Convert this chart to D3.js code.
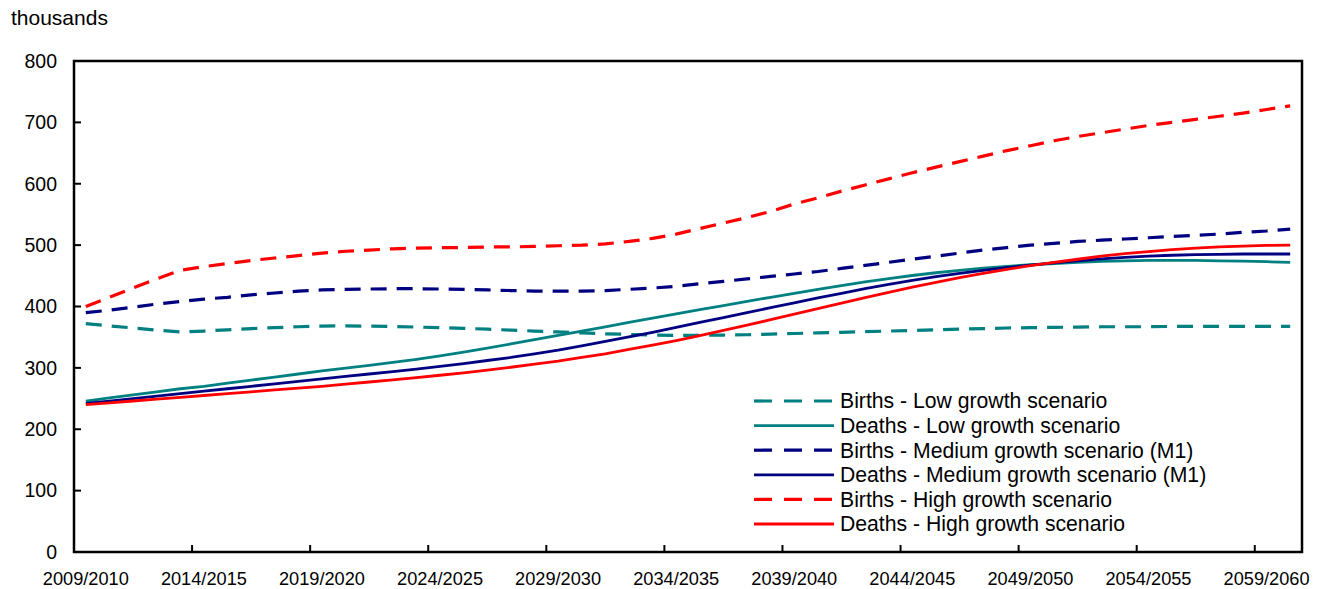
<!DOCTYPE html>
<html>
<head>
<meta charset="utf-8">
<script src="https://cdn.jsdelivr.net/npm/d3@7"></script>
<style>
  html, body { margin: 0; padding: 0; background: #fff; }
  svg { display: block; font-family: "Liberation Sans", Arial, Helvetica, sans-serif; }
</style>
</head>
<body>
<svg id="chart" width="1320" height="589"></svg>
<script>
// ---- Data (thousands) ----
const categories = [
  "2009/2010","2010/2011","2011/2012","2012/2013","2013/2014",
  "2014/2015","2015/2016","2016/2017","2017/2018","2018/2019",
  "2019/2020","2020/2021","2021/2022","2022/2023","2023/2024",
  "2024/2025","2025/2026","2026/2027","2027/2028","2028/2029",
  "2029/2030","2030/2031","2031/2032","2032/2033","2033/2034",
  "2034/2035","2035/2036","2036/2037","2037/2038","2038/2039",
  "2039/2040","2040/2041","2041/2042","2042/2043","2043/2044",
  "2044/2045","2045/2046","2046/2047","2047/2048","2048/2049",
  "2049/2050","2050/2051","2051/2052","2052/2053","2053/2054",
  "2054/2055","2055/2056","2056/2057","2057/2058","2058/2059",
  "2059/2060","2060/2061"
];
const tickLabels = ["2009/2010","2014/2015","2019/2020","2024/2025","2029/2030","2034/2035",
                    "2039/2040","2044/2045","2049/2050","2054/2055","2059/2060"];
const yTicks = [0, 100, 200, 300, 400, 500, 600, 700, 800];

const birthsLow = [372,368.5,365,361.5,358.5,360,362,364,365.5,367,368,368.5,368,367.5,366.5,365.5,364.5,363,361.5,360,
  358.5,357,355.5,354.5,353.5,353,353,353.5,354,355,356,357,358,359,360,361,362,363,364,365,
  365.5,366,366.5,367,367,367,367.5,367.5,367.5,367.5,367.5,367.5];
const deathsLow = [246,251,256,261,266,270,275,280,285,290,295,299.5,304,309,314,319.5,325.5,332,339,346,
  353,360,367,374,381,388,395,401.5,408.5,415,421.5,428,434,440,445.5,450.5,455,459,462.5,465.5,
  468,470,472,473.5,474.5,475,475,475,474.5,474,473,472];
const birthsMedium = [390,394,399,404,408,412,415,419,422,425,427,428,428.5,429,429,428.5,428,427,426,425,
  425,425,426,428,430,433,437,441,445,449,453,457,462,467,472,477,482,487,492,496,
  500,503,506,508,510,512,514,516,518,521,523,526];
const deathsMedium = [242,246,250,254,258,262,266,270,274,278,282,286,290,294,298,302.5,307,312,317,323,
  329,336,343,350.5,358,366,374,382,390,398,406,414,421.5,429,436,442.5,448.5,454,459,463.5,
  467.5,471,474.5,477.5,480,482,483.5,484.5,485,485.5,485.5,485.5];
const birthsHigh = [400,415,430,445,459,465,470,475,479,483,487,490,492,494,495,496,496,497,497,498,
  499,500,502,506,511,518,527,536,545,555,567,577,588,598,608,618,627,636,645,654,
  662,670,677,683,689,695,700,705,710,715,721,727];
const deathsHigh = [240,243,246,249,252,255,258,261,264,267,270,273.5,277,280.5,284,288,292,296.5,301,306,
  311,317,323,330,337,344.5,352.5,361,369.5,378.5,387.5,396.5,405.5,414.5,423,431.5,439.5,447,454,460.5,
  466.5,472,477,482,486,489.5,492.5,495,497,498.5,499.5,500];

const seriesNames = [
  "Births - Low growth scenario",
  "Deaths - Low growth scenario",
  "Births - Medium growth scenario (M1)",
  "Deaths - Medium growth scenario (M1)",
  "Births - High growth scenario",
  "Deaths - High growth scenario"
];
const seriesValues = [birthsLow, deathsLow, birthsMedium, deathsMedium, birthsHigh, deathsHigh];
const seriesColors = ["#008080", "#008080", "#000080", "#000080", "#ff0000", "#ff0000"];
const seriesDashed = [true, false, true, false, true, false];

// ---- Layout ----
const svg = d3.select("#chart");
const plotL = 74, plotR = 1302, plotT = 61, plotB = 552;

const x = d3.scaleBand().domain(categories).range([plotL, plotR]).paddingInner(0).paddingOuter(0);
const y = d3.scaleLinear().domain([0, 800]).range([plotB, plotT]);

// unit label
svg.append("text").attr("x", 11).attr("y", 25)
  .attr("font-size", 21).attr("fill", "#000").text("thousands");

// y tick labels
svg.append("g").selectAll("text").data(yTicks).join("text")
  .attr("x", 57).attr("y", d => y(d)).attr("dy", "0.35em")
  .attr("text-anchor", "end").attr("font-size", 19.5).attr("fill", "#000")
  .text(d => d);

// y ticks (inward)
svg.append("g").selectAll("line").data(yTicks).join("line")
  .attr("x1", plotL).attr("x2", plotL + 7)
  .attr("y1", d => y(d)).attr("y2", d => y(d))
  .attr("stroke", "#000").attr("stroke-width", 2);

// x ticks at band boundaries every 5 categories (inward)
const tickBoundaries = categories.filter((c, i) => i > 0 && i % 5 === 0);
svg.append("g").selectAll("line").data(tickBoundaries).join("line")
  .attr("x1", d => x(d)).attr("x2", d => x(d))
  .attr("y1", plotB).attr("y2", plotB - 7)
  .attr("stroke", "#000").attr("stroke-width", 2);

// x labels
svg.append("g").selectAll("text").data(tickLabels).join("text")
  .attr("x", d => x(d) + x.bandwidth() / 2).attr("y", 585)
  .attr("text-anchor", "middle").attr("font-size", 18.2).attr("fill", "#000")
  .text(d => d);

// lines
const line = d3.line()
  .x((d, i) => x(categories[i]) + x.bandwidth() / 2)
  .y(d => y(d))
  .curve(d3.curveLinear);

const g = svg.append("g");
seriesValues.forEach((vals, k) => {
  g.append("path").datum(vals)
    .attr("d", line)
    .attr("fill", "none")
    .attr("stroke", seriesColors[k])
    .attr("stroke-width", seriesDashed[k] ? 3.2 : 2.8)
    .attr("stroke-dasharray", seriesDashed[k] ? "16,10" : null)
    .attr("stroke-linejoin", "round");
});

// frame
svg.append("rect").attr("x", plotL).attr("y", plotT)
  .attr("width", plotR - plotL).attr("height", plotB - plotT)
  .attr("fill", "none").attr("stroke", "#000").attr("stroke-width", 2.5);

// legend
const legend = svg.append("g");
seriesNames.forEach((name, k) => {
  const ly = 401 + k * 24.6;
  legend.append("line")
    .attr("x1", 754).attr("x2", 834).attr("y1", ly).attr("y2", ly)
    .attr("stroke", seriesColors[k])
    .attr("stroke-width", seriesDashed[k] ? 3.2 : 2.8)
    .attr("stroke-dasharray", seriesDashed[k] ? "18,12" : null);
  legend.append("text")
    .attr("x", 840).attr("y", ly).attr("dy", "0.35em")
    .attr("font-size", 21.2).attr("fill", "#000")
    .text(name);
});
</script>
</body>
</html>
